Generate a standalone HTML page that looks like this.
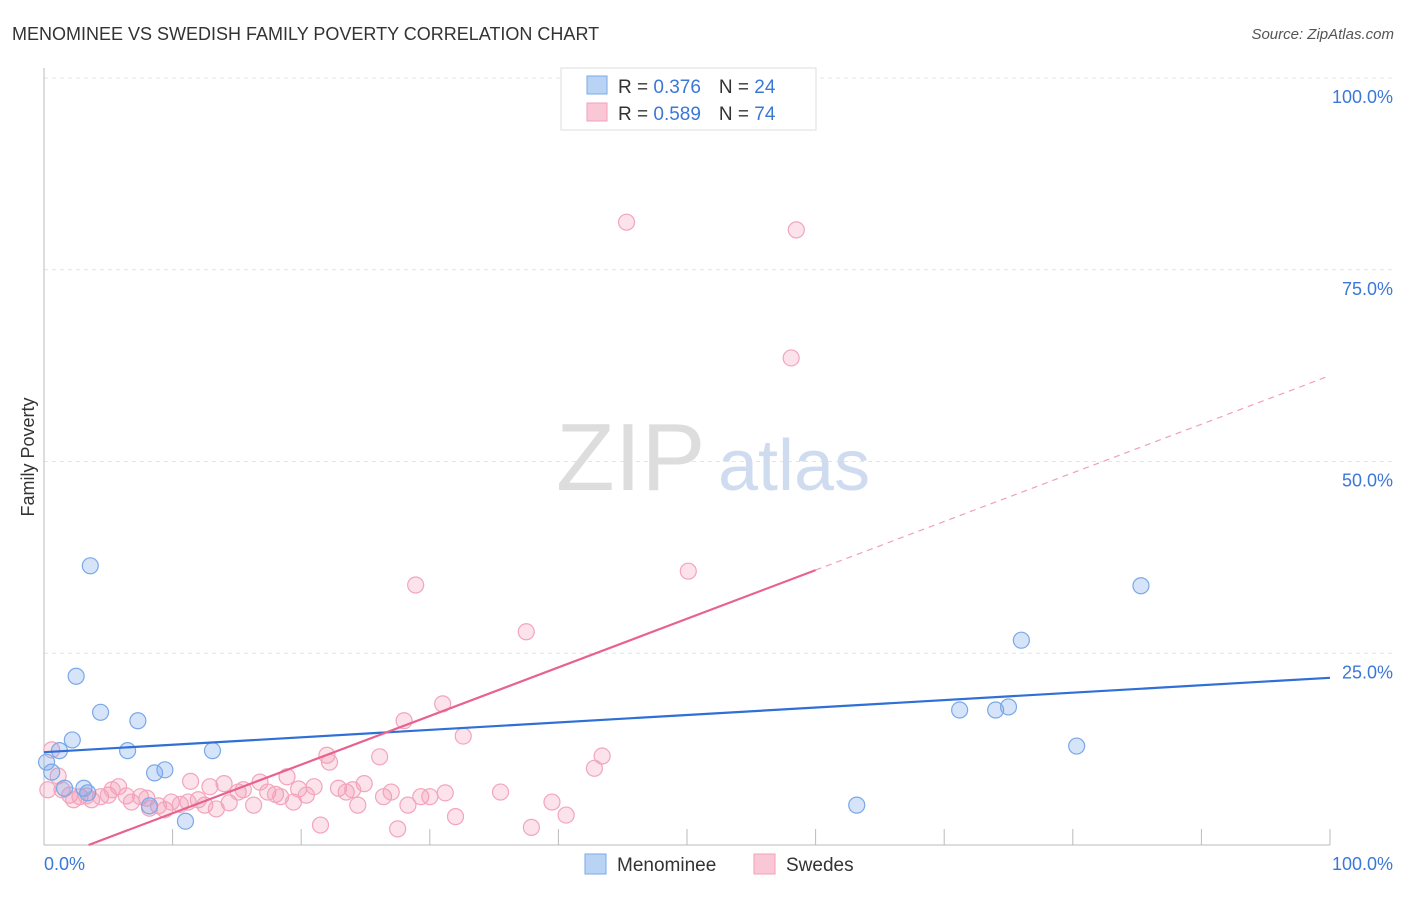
<!DOCTYPE html>
<html><head><meta charset="utf-8"><style>
body{margin:0;background:#fff;font-family:"Liberation Sans",sans-serif;}
svg text{font-family:"Liberation Sans",sans-serif;}
</style></head><body>
<svg width="1406" height="892" xmlns="http://www.w3.org/2000/svg">
<text x="12" y="40" font-size="18" fill="#333">MENOMINEE VS SWEDISH FAMILY POVERTY CORRELATION CHART</text>
<text x="1394" y="39" font-size="15" fill="#555" text-anchor="end" font-style="italic">Source: ZipAtlas.com</text>
<g id="grid"></g>
<g id="axes"></g>
<text x="556" y="490" font-size="96" fill="#ddd" font-family="Liberation Serif">ZIP</text>
<text x="718" y="490" font-size="72" fill="#cfdcf0">atlas</text>
<g id="marks"></g>
<text transform="translate(34,457) rotate(-90)" font-size="18" fill="#333" text-anchor="middle">Family Poverty</text>
<g>
<rect x="561" y="68" width="255" height="62" fill="#fff" stroke="#ddd"/>
<rect x="587" y="76" width="20" height="18" fill="#b9d3f5" stroke="#7aa8e8"/>
<rect x="587" y="103" width="20" height="18" fill="#fac7d6" stroke="#f0a0b8"/>
<text x="618" y="93" font-size="19" fill="#333">R = <tspan fill="#3a78d8">0.376</tspan><tspan dx="18">N = </tspan><tspan fill="#3a78d8">24</tspan></text>
<text x="618" y="120" font-size="19" fill="#333">R = <tspan fill="#3a78d8">0.589</tspan><tspan dx="18">N = </tspan><tspan fill="#3a78d8">74</tspan></text>
</g>
<g>
<rect x="585" y="854" width="21" height="20" fill="#b9d3f5" stroke="#7aa8e8"/>
<text x="617" y="871" font-size="19" fill="#333">Menominee</text>
<rect x="754" y="854" width="21" height="20" fill="#fac7d6" stroke="#f0a0b8"/>
<text x="786" y="871" font-size="19" fill="#333">Swedes</text>
</g>
</svg>
<script>
const yTicks=[25,50,75,100];
const yTickLabels=["25.0%","50.0%","75.0%","100.0%"];
const blueX=[3.6,2.5,4.4,7.3,2.2,1.2,6.5,13.1,0.6,8.6,9.4,1.6,3.1,3.4,8.2,11.0,63.2,71.2,74.0,75.0,76.0,80.3,85.3,0.2];
const blueY=[36.4,22.0,17.3,16.2,13.7,12.3,12.3,12.3,9.5,9.4,9.8,7.4,7.4,6.8,5.1,3.1,5.2,17.6,17.6,18.0,26.7,12.9,33.8,10.8];
const pinkX=[45.3,58.5,58.1,50.1,28.9,37.5,31.0,28.0,32.6,22.0,22.2,26.1,43.4,42.8,0.6,1.1,1.4,2.0,2.8,3.7,4.4,5.0,5.8,5.3,6.4,6.8,7.5,8.0,8.9,9.4,9.9,10.6,11.4,12.0,12.5,12.9,13.4,14.0,14.4,15.1,15.5,16.3,16.8,17.4,18.0,18.4,18.9,19.4,19.8,20.4,21.0,21.5,22.9,23.5,24.0,24.4,24.9,26.4,27.0,27.5,28.3,29.3,30.0,31.2,32.0,35.5,37.9,39.5,40.6,0.3,2.3,3.3,8.2,11.2];
const pinkY=[81.2,80.2,63.5,35.7,33.9,27.8,18.4,16.2,14.2,11.7,10.8,11.5,11.6,10.0,12.4,9.0,7.2,6.5,6.3,5.9,6.3,6.5,7.6,7.2,6.4,5.6,6.3,6.1,5.1,4.6,5.6,5.3,8.3,5.9,5.2,7.6,4.7,8.0,5.5,6.9,7.2,5.2,8.2,6.9,6.6,6.3,8.9,5.6,7.3,6.5,7.6,2.6,7.4,6.9,7.2,5.2,8.0,6.3,6.9,2.1,5.2,6.3,6.3,6.8,3.7,6.9,2.3,5.6,3.9,7.2,5.9,6.4,4.8,5.6];
const blueLine=[12.1,21.8];
const pinkLine=[-2.2,61.2];
const pinkSolidEnd=60;
const X0=44,X1=1330,Y0=845,Y100=78;
const sx=v=>X0+(X1-X0)*v/100, sy=v=>Y0-(Y0-Y100)*v/100;
const NS="http://www.w3.org/2000/svg";
function mk(p,t,a){const e=document.createElementNS(NS,t);for(const k in a)e.setAttribute(k,a[k]);p.appendChild(e);return e;}
const grid=document.getElementById('grid'),axes=document.getElementById('axes'),marks=document.getElementById('marks');
yTicks.forEach((t,i)=>{
 const l=mk(grid,'line',{x1:X0,x2:1394,y1:sy(t),y2:sy(t),stroke:'#e4e4e4','stroke-dasharray':'4,4'});
 
 
 const tx=mk(axes,'text',{x:1393,y:sy(t)+25,'font-size':18,fill:'#3a78d8','text-anchor':'end'});tx.textContent=yTickLabels[i];
 
 
});
const ya=mk(axes,'line',{x1:X0,x2:X0,y1:68,y2:Y0,stroke:'#bbb'});


const xa=mk(axes,'line',{x1:X0,x2:X1,y1:Y0,y2:Y0,stroke:'#bbb'});


for(let i=0;i<=10;i++){const t=mk(axes,'line',{x1:sx(i*10),x2:sx(i*10),y1:Y0,y2:Y0-16,stroke:'#bbb'});
 
 }
const xl=mk(axes,'text',{x:44,y:870,'font-size':18,fill:'#3a78d8'});xl.textContent='0.0%';


const xr=mk(axes,'text',{x:1393,y:870,'font-size':18,fill:'#3a78d8','text-anchor':'end'});xr.textContent='100.0%';


pinkX.forEach((x,i)=>{const c=mk(marks,'circle',{cx:sx(x),cy:sy(pinkY[i]),r:8,fill:'rgba(245,150,180,0.28)',stroke:'#f2a5bd','stroke-width':1.2});
 
 });
blueX.forEach((x,i)=>{const c=mk(marks,'circle',{cx:sx(x),cy:sy(blueY[i]),r:8,fill:'rgba(120,165,235,0.3)',stroke:'#7aa8e8','stroke-width':1.2});
 
 });
const bl=mk(marks,'line',{x1:sx(0),y1:sy(blueLine[0]),x2:sx(100),y2:sy(blueLine[1]),stroke:'#2f6fd6','stroke-width':2.2});


const pv=x=>pinkLine[0]+(pinkLine[1]-pinkLine[0])*x/100;
const x0=(-pinkLine[0])/(pinkLine[1]-pinkLine[0])*100;
const ps=mk(marks,'line',{x1:sx(x0),y1:sy(0),x2:sx(pinkSolidEnd),y2:sy(pv(pinkSolidEnd)),stroke:'#e8628f','stroke-width':2.2});


const pd=mk(marks,'line',{x1:sx(pinkSolidEnd),y1:sy(pv(pinkSolidEnd)),x2:sx(100),y2:sy(pinkLine[1]),stroke:'#eea0b8','stroke-width':1.2,'stroke-dasharray':'6,5'});


</script>
</body></html>
